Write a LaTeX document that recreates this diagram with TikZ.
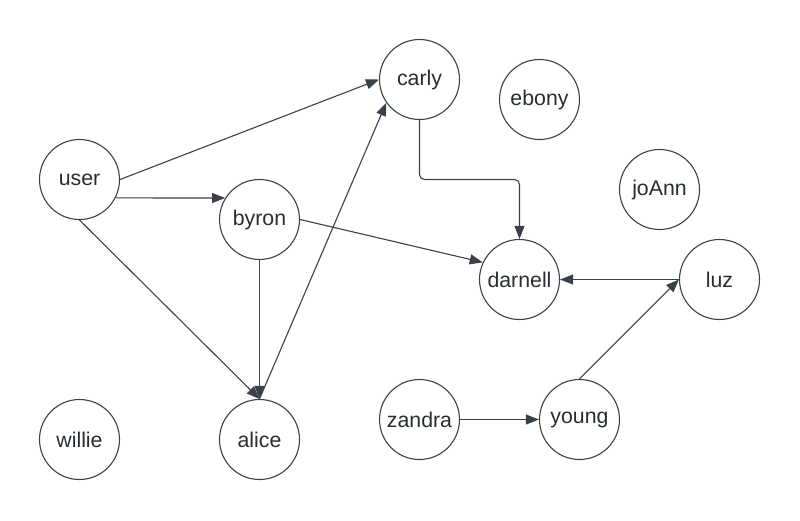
\documentclass[tikz,border=0pt]{standalone}
\usepackage{fontspec}
\setmainfont{Liberation Sans}
\usetikzlibrary{arrows.meta}
\definecolor{edgecol}{HTML}{3A414A}
\definecolor{txtcol}{HTML}{282C33}
\begin{document}
\begin{tikzpicture}[x=1pt,y=-1pt,
  vertex/.style={circle,draw=edgecol,line width=1.1pt,minimum size=80pt,inner sep=0pt,
    text=txtcol,font=\fontsize{21.3}{24}\selectfont},
  link/.style={draw=edgecol,line width=1.1pt,-{Triangle[length=13pt,width=10pt]}}]
\useasboundingbox (0,0) rectangle (800,520);
\node[vertex] (carly) at (419.5,79.5) {carly};
\node[vertex] (ebony) at (539.5,99.5) {ebony};
\node[vertex] (user) at (79.5,179.5) {user};
\node[vertex] (byron) at (259.5,219.5) {byron};
\node[vertex] (joann) at (659.5,189.5) {joAnn};
\node[vertex] (darnell) at (519.5,279.5) {darnell};
\node[vertex] (luz) at (719.5,279.5) {luz};
\node[vertex] (willie) at (79.5,439.5) {willie};
\node[vertex] (alice) at (259.5,439.5) {alice};
\node[vertex] (zandra) at (419.5,419.5) {zandra};
\node[vertex] (young) at (579.5,419.5) {young};

\draw[link] (user.east) -- (carly.west);
\draw[link] (user.-27.1) -- (byron.148);
\draw[link] (user.south) -- (alice.north);
\draw[link] (byron.south) -- (alice.north);
\draw[link] (alice.north) -- (carly.215);
\draw[link] (byron.east) -- (darnell.155);
\draw[link,rounded corners=5pt] (carly.south) -- (419.5,179.5) -- (519.5,179.5) -- (darnell.north);
\draw[link] (luz.west) -- (darnell.east);
\draw[link] (young.north) -- (luz.west);
\draw[link] (zandra.east) -- (young.west);
\end{tikzpicture}
\end{document}
